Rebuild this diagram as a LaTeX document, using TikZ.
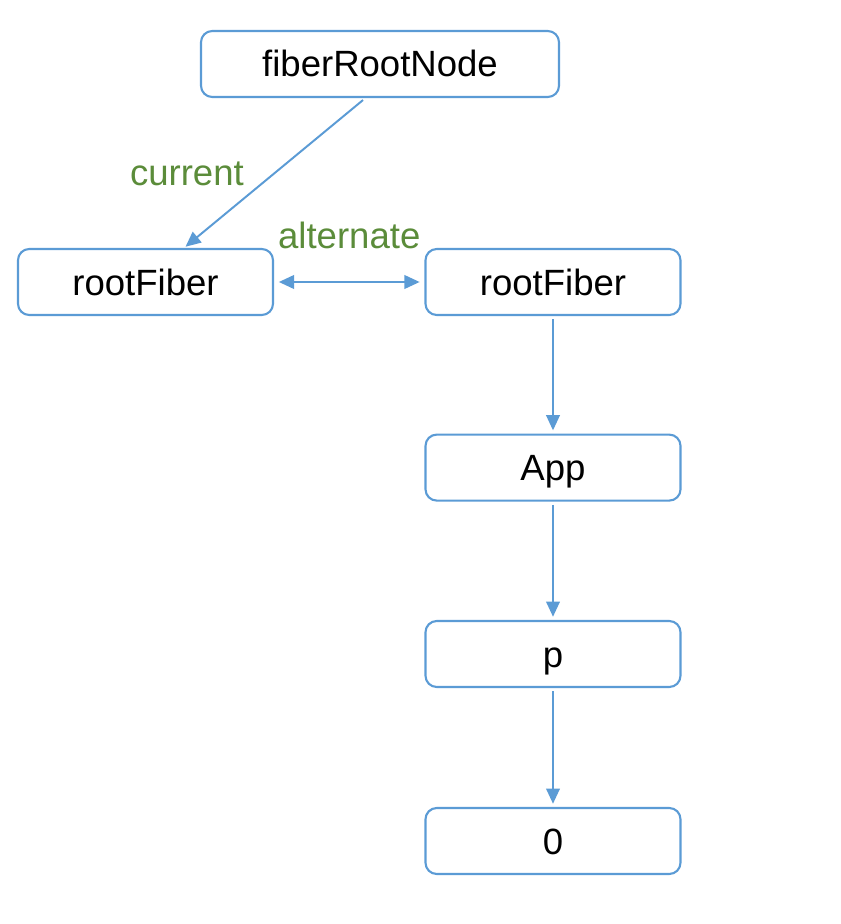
\documentclass[tikz,border=0pt]{standalone}
\usepackage{fontspec}
\setmainfont{Liberation Sans}
\usepackage{xcolor}
\usepackage{tikz}
\usetikzlibrary{arrows.meta,positioning}
\usetikzlibrary{calc}
\definecolor{fiberblue}{HTML}{5B9BD5}
\definecolor{fibergreen}{HTML}{5B8C3A}
\begin{document}
\begin{tikzpicture}
    \tikzstyle{every node}=[font=\fontsize{26}{30}\selectfont]
    \tikzstyle{fbox}=[draw=fiberblue, line width=1.5pt, minimum height=1.65cm, minimum width=6.375cm, rounded corners=8pt, text height=0.75cm, text depth=0.1cm]
    \tikzstyle{flink}=[draw=fiberblue, line width=1.4pt, -{Triangle[length=0.38cm,width=0.34cm]}]
    \tikzstyle{flabel}=[text=fibergreen]
    \useasboundingbox (0,0) rectangle (21,-23.1);
    \node[fbox, minimum width=8.95cm] (FRN) at (9.5,-1.6) {fiberRootNode}; %
    \node[fbox] (RF) at (3.6375,-7.05) {rootFiber}; %
    \node[fbox] (RFp) at ($(RF)+(10.1875cm,0)$) {rootFiber}; %
    \node[fbox] (App) at ($(RFp)+(0,-4.64cm)$) {App}; %
    \node[fbox] (P) at ($(App)+(0,-4.66cm)$) {p}; %
    \node[fbox] (Z) at ($(P)+(0,-4.675cm)$) {0}; %
    \draw[flink] ($(FRN.south)+(-0.425,-0.05)$) -- node[flabel, left=0.62cm]{current} ($(RF.north)+(1.0,0.03)$); %
    \draw[flink, {Triangle[length=0.38cm,width=0.34cm]}-{Triangle[length=0.38cm,width=0.34cm]}, shorten <=0.12cm, shorten >=0.12cm] (RF) -- node[flabel, above=0.68cm]{alternate} (RFp); %
    \draw[flink, shorten <=0.08cm, shorten >=0.08cm] (RFp) -- (App); %
    \draw[flink, shorten <=0.08cm, shorten >=0.08cm] (App) -- (P); %
    \draw[flink, shorten <=0.08cm, shorten >=0.08cm] (P) -- (Z); %
\end{tikzpicture}
\end{document}
